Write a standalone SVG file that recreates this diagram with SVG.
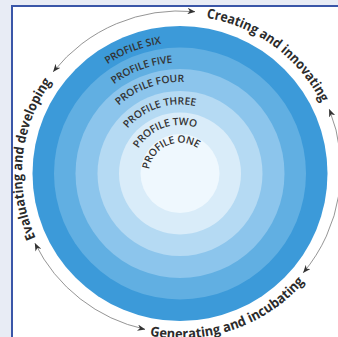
<svg xmlns="http://www.w3.org/2000/svg" width="338" height="337" viewBox="0 0 338 337">
<style>
.ring{stroke:none}
.prof{font-family:"Open Sans","Liberation Sans",sans-serif;font-weight:600;font-size:10.3px;fill:#333}
.lab{font-family:"Open Sans","Liberation Sans",sans-serif;font-weight:700;font-size:13.5px;fill:#2b2b2b}
.arc{fill:none;stroke:#7a7a7a;stroke-width:0.8;marker-start:url(#ah);marker-end:url(#ah)}
</style>
<defs>
<marker id="ah" viewBox="0 0 10 8" refX="9.5" refY="4" markerWidth="8" markerHeight="6.4" markerUnits="userSpaceOnUse" orient="auto-start-reverse">
<path d="M0,0 L10,4 L0,8 L3,4 z" fill="#333"/>
</marker>
<path id="pSix" d="M107.5,64.4 A131,131 0 0 1 180,42.5"/>
<path id="pFive" d="M114,84.3 A111,111 0 0 1 189.7,62.9"/>
<path id="pFour" d="M118.8,105.5 A91.5,91.5 0 0 1 203.7,85.1"/>
<path id="pThree" d="M127.6,128.6 A69,69 0 0 1 214.5,113.7"/>
<path id="pTwo" d="M138.5,148.45 A48.5,48.5 0 0 1 217.2,142.3"/>
<path id="pOne" d="M149.3,169.45 A31,31 0 0 1 211,173.5"/>
<path id="tCreate" d="M206.4,17.7 A158,158 0 0 1 328.5,119.5"/>
<path id="tEval" d="M35.7,237.8 A158,158 0 0 1 68.3,61.8"/>
<path id="tGen" d="M149.9,335.7 A165,165 0 0 0 315.2,268.1"/>
</defs>
<rect x="0" y="0" width="338" height="337" fill="#e8ecf5"/>
<rect x="12" y="6" width="340" height="345" fill="#ffffff" stroke="#3a56a8" stroke-width="2"/>
<g id="rings">
<circle id="ring6" class="ring" cx="180" cy="173.5" r="147.5" fill="#3c9ad9"/>
<circle id="ring5" class="ring" cx="180" cy="173.5" r="126" fill="#61afe2"/>
<circle id="ring4" class="ring" cx="180" cy="173.5" r="104.5" fill="#8cc5ec"/>
<circle id="ring3" class="ring" cx="180" cy="173.5" r="82.5" fill="#b5daf3"/>
<circle id="ring2" class="ring" cx="180" cy="173.5" r="61" fill="#d9ecf9"/>
<circle id="ring1" class="ring" cx="180" cy="173.5" r="39.5" fill="#eff8fe"/>
</g>
<g id="profile-labels">
<text class="prof"><textPath href="#pSix" textLength="58" lengthAdjust="spacing">PROFILE SIX</textPath></text>
<text class="prof"><textPath href="#pFive" textLength="63" lengthAdjust="spacing">PROFILE FIVE</textPath></text>
<text class="prof"><textPath href="#pFour" textLength="71" lengthAdjust="spacing">PROFILE FOUR</textPath></text>
<text class="prof"><textPath href="#pThree" textLength="75" lengthAdjust="spacing">PROFILE THREE</textPath></text>
<text class="prof"><textPath href="#pTwo" textLength="66" lengthAdjust="spacing">PROFILE TWO</textPath></text>
<text class="prof"><textPath href="#pOne" textLength="63" lengthAdjust="spacing">PROFILE ONE</textPath></text>
</g>
<g id="connectors">
<path class="arc" d="M53.3,71.7 A161,161 0 0 1 195,11.7"/>
<path class="arc" d="M329.3,109.3 A161,161 0 0 1 303.3,272.7"/>
<path class="arc" d="M145,329.3 A161,161 0 0 1 35,243.3"/>
</g>
<g id="stage-create"><text class="lab"><textPath href="#tCreate" textLength="148" lengthAdjust="spacingAndGlyphs">Creating and innovating</textPath></text></g>
<g id="stage-eval"><text class="lab"><textPath href="#tEval" textLength="164" lengthAdjust="spacingAndGlyphs">Evaluating and developing</textPath></text></g>
<g id="stage-gen"><text class="lab"><textPath href="#tGen" textLength="171" lengthAdjust="spacingAndGlyphs">Generating and incubating</textPath></text></g>
</svg>
